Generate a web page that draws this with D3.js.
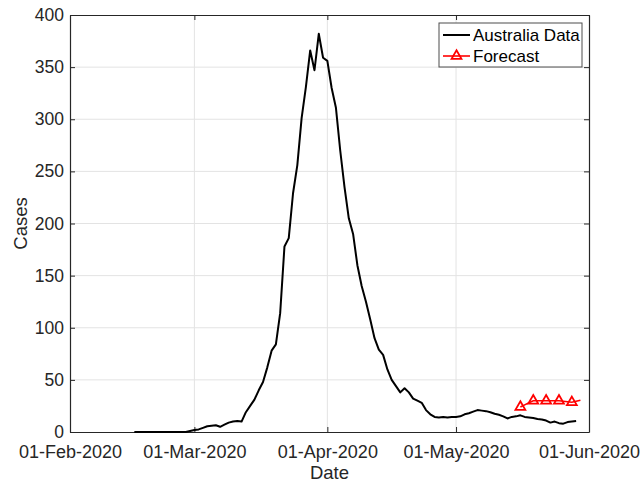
<!DOCTYPE html>
<html>
<head>
<meta charset="utf-8">
<script src="https://cdn.jsdelivr.net/npm/d3@7"></script>
<style>
  body { margin: 0; background: #fff; }
  svg { font-family: "Liberation Sans", Arial, Helvetica, sans-serif; }
</style>
</head>
<body>
<div id="chart"></div>
<script>
// daily cases from 16-Feb-2020 to 30-May-2020
var dataStart = "2020-02-16";
var cases = [
  0, 0, 0, 0, 0, 0, 0, 0, 0, 0, 0, 0, 0,
  1, 2, 2.5, 4, 5.5, 6, 6.5, 5, 7, 9, 10, 10.5, 10,
  19, 25, 31, 40, 48, 62, 78, 84, 114, 178, 186, 229, 256, 301, 331, 366, 347, 382,
  359, 356, 330, 311, 270, 235, 205, 190, 160, 140, 125, 108, 90, 79, 74, 60, 50, 44,
  38, 42, 38, 32, 30, 28, 21, 17, 14.5, 14, 14.5, 14, 14.5, 14.5, 15, 17, 18, 19.5,
  21, 20.5, 20, 19, 17.5, 16.5, 15, 13, 14.5, 15, 16, 14.5, 14, 13.5, 12.5, 12, 11,
  9, 10, 8.5, 8, 9.5, 10, 10.5
];
// forecast from 16-May-2020, marker every 3rd day
var forecastStart = "2020-05-16";
var forecast = [24, 26, 28, 30, 30, 30, 30, 30, 30, 30, 29.5, 29, 28.5, 29.5, 30.5];
var yTicks = [0, 50, 100, 150, 200, 250, 300, 350, 400];
var xTicks = ["2020-02-01", "2020-03-01", "2020-04-01", "2020-05-01", "2020-06-01"];
var seriesNames = ["Australia Data", "Forecast"];

var width = 640, height = 484;
var margin = {top: 15, right: 51, bottom: 52, left: 70};
var w = width - margin.left - margin.right,
    h = height - margin.top - margin.bottom;

var parse = d3.utcParse("%Y-%m-%d");
function series(start, vals) {
  var d0 = parse(start);
  return vals.map(function(v, i) { return {date: d3.utcDay.offset(d0, i), value: v}; });
}
var actual = series(dataStart, cases);
var fc = series(forecastStart, forecast);

var svg = d3.select("#chart").append("svg")
    .attr("width", width)
    .attr("height", height);
var g = svg.append("g").attr("transform", "translate(" + margin.left + "," + margin.top + ")");

var x = d3.scaleUtc()
    .domain([parse(xTicks[0]), parse(xTicks[xTicks.length - 1])])
    .range([0, w]);
var y = d3.scaleLinear().domain([0, 400]).range([h, 0]);

var axisColor = "#262626";

// grid
g.append("g").selectAll("line").data(xTicks.slice(1, -1)).enter().append("line")
  .attr("x1", function(d) { return x(parse(d)); })
  .attr("x2", function(d) { return x(parse(d)); })
  .attr("y1", 0).attr("y2", h)
  .attr("stroke", "#e3e3e3").attr("stroke-width", 1);
g.append("g").selectAll("line").data(yTicks.slice(1, -1)).enter().append("line")
  .attr("y1", function(d) { return y(d); })
  .attr("y2", function(d) { return y(d); })
  .attr("x1", 0).attr("x2", w)
  .attr("stroke", "#e3e3e3").attr("stroke-width", 1);

// axes (ticks inward, box on)
var fmt = d3.utcFormat("%d-%b-%Y");
var xAxis = d3.axisBottom(x).tickValues(xTicks.map(parse)).tickFormat(fmt).tickSizeInner(-5).tickSizeOuter(0).tickPadding(13);
var yAxis = d3.axisLeft(y).tickValues(yTicks).tickSizeInner(-5).tickSizeOuter(0).tickPadding(6);

var gx = g.append("g").attr("transform", "translate(0," + h + ")").call(xAxis);
var gy = g.append("g").call(yAxis);
g.append("g").call(d3.axisTop(x).tickValues(xTicks.map(parse)).tickFormat("").tickSizeInner(-5).tickSizeOuter(0));
g.append("g").attr("transform", "translate(" + w + ",0)")
  .call(d3.axisRight(y).tickValues(yTicks).tickFormat("").tickSizeInner(-5).tickSizeOuter(0));

g.selectAll(".domain").attr("stroke", axisColor).attr("stroke-width", 1.2);
g.selectAll(".tick line").attr("stroke", axisColor);
g.selectAll(".tick text").attr("fill", axisColor).style("font-size", "17.5px");
gx.selectAll(".tick text").style("font-size", "18px");

// labels
g.append("text")
  .attr("x", w / 2).attr("y", h + 47)
  .attr("text-anchor", "middle")
  .attr("fill", axisColor)
  .style("font-size", "18.5px")
  .text("Date");
g.append("text")
  .attr("transform", "translate(" + (-43) + "," + (h / 2) + ") rotate(-90)")
  .attr("text-anchor", "middle")
  .attr("fill", axisColor)
  .style("font-size", "18.5px")
  .text("Cases");

// lines
var line = d3.line().x(function(d) { return x(d.date); }).y(function(d) { return y(d.value); });
g.append("path").datum(actual)
  .attr("d", line).attr("fill", "none")
  .attr("stroke", "#000").attr("stroke-width", 2).attr("stroke-linejoin", "round");
g.append("path").datum(fc)
  .attr("d", line).attr("fill", "none")
  .attr("stroke", "#ff0000").attr("stroke-width", 1.6);
var tri = d3.symbol().type(d3.symbolTriangle).size(42);
g.selectAll(".mk").data(fc.filter(function(d, i) { return i % 3 === 0; })).enter().append("path")
  .attr("class", "mk")
  .attr("d", tri)
  .attr("transform", function(d) { return "translate(" + x(d.date) + "," + y(d.value) + ")"; })
  .attr("fill", "none").attr("stroke", "#ff0000").attr("stroke-width", 1.8);

// legend
var lg = svg.append("g").attr("transform", "translate(439,23)");
lg.append("rect").attr("width", 143).attr("height", 44)
  .attr("fill", "#fff").attr("stroke", "#4d4d4d").attr("stroke-width", 1);
seriesNames.forEach(function(name, i) {
  var yy = 12 + i * 21;
  var col = i === 0 ? "#000" : "#ff0000";
  lg.append("line").attr("x1", 4).attr("x2", 31).attr("y1", yy).attr("y2", yy)
    .attr("stroke", col).attr("stroke-width", i === 0 ? 2 : 1.6);
  if (i === 1) {
    lg.append("path").attr("d", tri).attr("transform", "translate(17.5," + yy + ")")
      .attr("fill", "none").attr("stroke", col).attr("stroke-width", 1.8);
  }
  lg.append("text").attr("x", 34).attr("y", yy + 6)
    .attr("fill", "#000").style("font-size", "17px").text(name);
});
</script>
</body>
</html>
